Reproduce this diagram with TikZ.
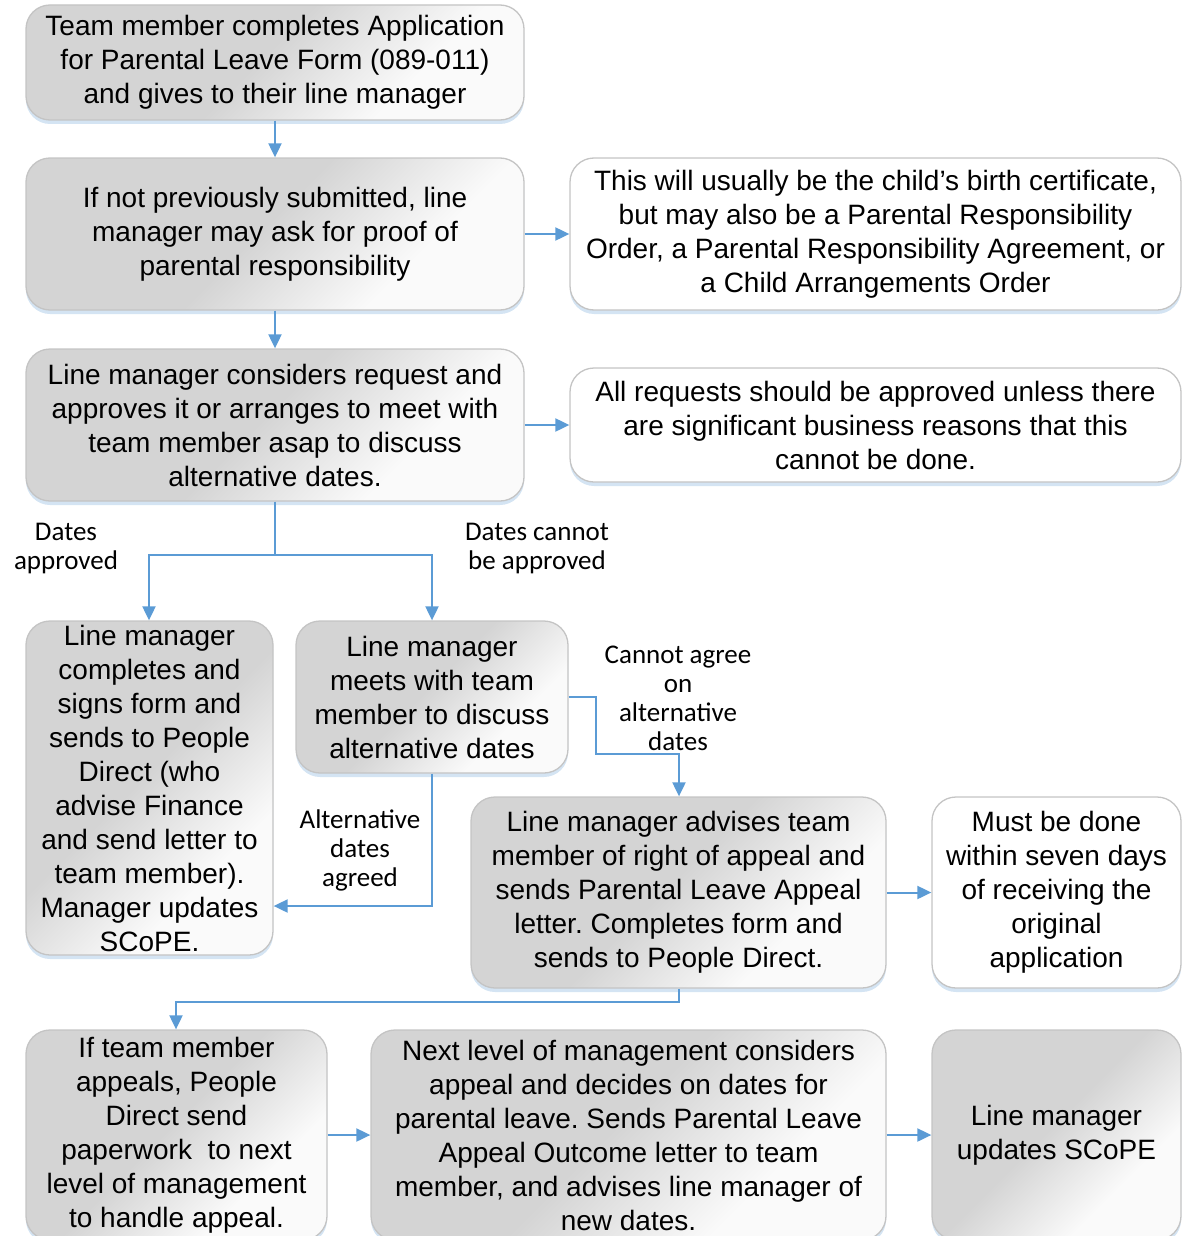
\documentclass[tikz,border=0pt]{standalone}
\usepackage{fontspec}
\setmainfont{Liberation Sans}
\newfontfamily\labfam{Carlito}
\usetikzlibrary{arrows.meta,shadows}
\definecolor{boxgray}{HTML}{D4D4D4}
\definecolor{boxlight}{HTML}{FAFAFA}
\definecolor{bordergray}{HTML}{C4C4C4}
\definecolor{lineblue}{HTML}{5B9BD5}
\definecolor{shadowblue}{HTML}{C9DDF0}
\pgfdeclareverticalshading{boxsh}{100bp}{color(0bp)=(boxlight); color(32bp)=(boxlight); color(52bp)=(boxgray); color(100bp)=(boxgray)}
\newcommand{\boxfont}{\frenchspacing\fontsize{28}{34}\selectfont}
\newcommand{\labfont}{\frenchspacing\labfam\fontsize{27}{29}\selectfont}
\tikzset{
  x=1pt, y=1pt,
  basebox/.style={rectangle, rounded corners=24pt, draw=bordergray, line width=1.3pt,
    align=center, inner sep=0pt, font=\boxfont,
    drop shadow={shadow xshift=0pt, shadow yshift=-4pt, fill=shadowblue, opacity=0.8}},
  gbox/.style={basebox, shading=boxsh, shading angle=45},
  wbox/.style={basebox, fill=white},
  conn/.style={draw=lineblue, line width=2pt, -{Triangle[length=14pt,width=13pt]}},
  lbl/.style={font=\labfont, align=center, inner sep=0pt}
}
\begin{document}
\begin{tikzpicture}
\useasboundingbox (0,0) rectangle (1187,-1236);
% boxes
\node[gbox, minimum width=498, minimum height=115] (b1) at (275,-62.5)
 {Team member completes Application\\for Parental Leave Form (089-011)\\and gives to their line manager};
\node[gbox, minimum width=498, minimum height=152] (b2) at (275,-234)
 {If not previously submitted, line\\manager may ask for proof of\\parental responsibility};
\node[wbox, minimum width=611, minimum height=152] (n1) at (875.5,-234)
 {This will usually be the child’s birth certificate,\\but may also be a Parental Responsibility\\Order, a Parental Responsibility Agreement, or\\a Child Arrangements Order};
\node[gbox, minimum width=498, minimum height=152] (b3) at (275,-425)
 {Line manager considers request and\\approves it or arranges to meet with\\team member asap to discuss\\alternative dates.};
\node[wbox, minimum width=611, minimum height=114] (n2) at (875.5,-425)
 {All requests should be approved unless there\\are significant business reasons that this\\cannot be done.};
\node[gbox, minimum width=247, minimum height=334] (b4) at (149.5,-788)
 {Line manager\\completes and\\signs form and\\sends to People\\Direct (who\\advise Finance\\and send letter to\\team member).\\Manager updates\\SCoPE.};
\node[gbox, minimum width=272, minimum height=152] (b5) at (432,-697)
 {Line manager\\meets with team\\member to discuss\\alternative dates};
\node[gbox, minimum width=415, minimum height=191] (b6) at (678.5,-892.5)
 {Line manager advises team\\member of right of appeal and\\sends Parental Leave Appeal\\letter. Completes form and\\sends to People Direct.};
\node[wbox, minimum width=249, minimum height=191] (n3) at (1056.5,-892.5)
 {Must be done\\within seven days\\of receiving the\\original\\application};
\node[gbox, minimum width=301, minimum height=210] (b7) at (176.5,-1135)
 {If team member\\appeals, People\\Direct send\\paperwork\ \ to next\\level of management\\to handle appeal.};
\node[gbox, minimum width=515, minimum height=210] (b8) at (628.5,-1135)
 {Next level of management considers\\appeal and decides on dates for\\parental leave. Sends Parental Leave\\Appeal Outcome letter to team\\member, and advises line manager of\\new dates.};
\node[gbox, minimum width=249, minimum height=210] (b9) at (1056.5,-1135)
 {Line manager\\updates SCoPE};
% coordinates
\coordinate (s1) at (275,-555);
\coordinate (s1l) at (149,-555);
\coordinate (s1r) at (432,-555);
\coordinate (c1) at (596,-697);
\coordinate (c2) at (596,-754);
\coordinate (c3) at (679,-754);
\coordinate (d1) at (432,-906);
\coordinate (e1) at (679,-1002);
\coordinate (e2) at (176,-1002);
% connectors
\draw[conn] (b1.south) -- (b2.north);
\draw[conn] (b2.east) -- (n1.west);
\draw[conn] (b2.south) -- (b3.north);
\draw[conn] (b3.east) -- (n2.west);
\draw[draw=lineblue, line width=2pt] (b3.south) -- (s1);
\draw[conn] (s1) -- (s1l) -- (b4.north -| s1l);
\draw[conn] (s1) -- (s1r) -- (b5.north);
\draw[conn] (b5.east) -- (c1) -- (c2) -- (c3) -- (b6.north -| c3);
\draw[conn] (b5.south) -- (d1) -- (d1 -| b4.east);
\draw[conn] (b6.east) -- (n3.west);
\draw[conn] (b6.south -| e1) -- (e1) -- (e2) -- (b7.north -| e2);
\draw[conn] (b7.east) -- (b8.west);
\draw[conn] (b8.east) -- (b9.west);
% labels
\node[lbl] (l1) at (66,-549) {Dates\\approved};
\node[lbl] (l2) at (537,-549) {Dates cannot\\be approved};
\node[lbl] (l3) at (678,-698) {Cannot agree\\on\\alternative\\dates};
\node[lbl] (l4) at (360,-850) {Alternative\\dates\\agreed};
\end{tikzpicture}
\end{document}
